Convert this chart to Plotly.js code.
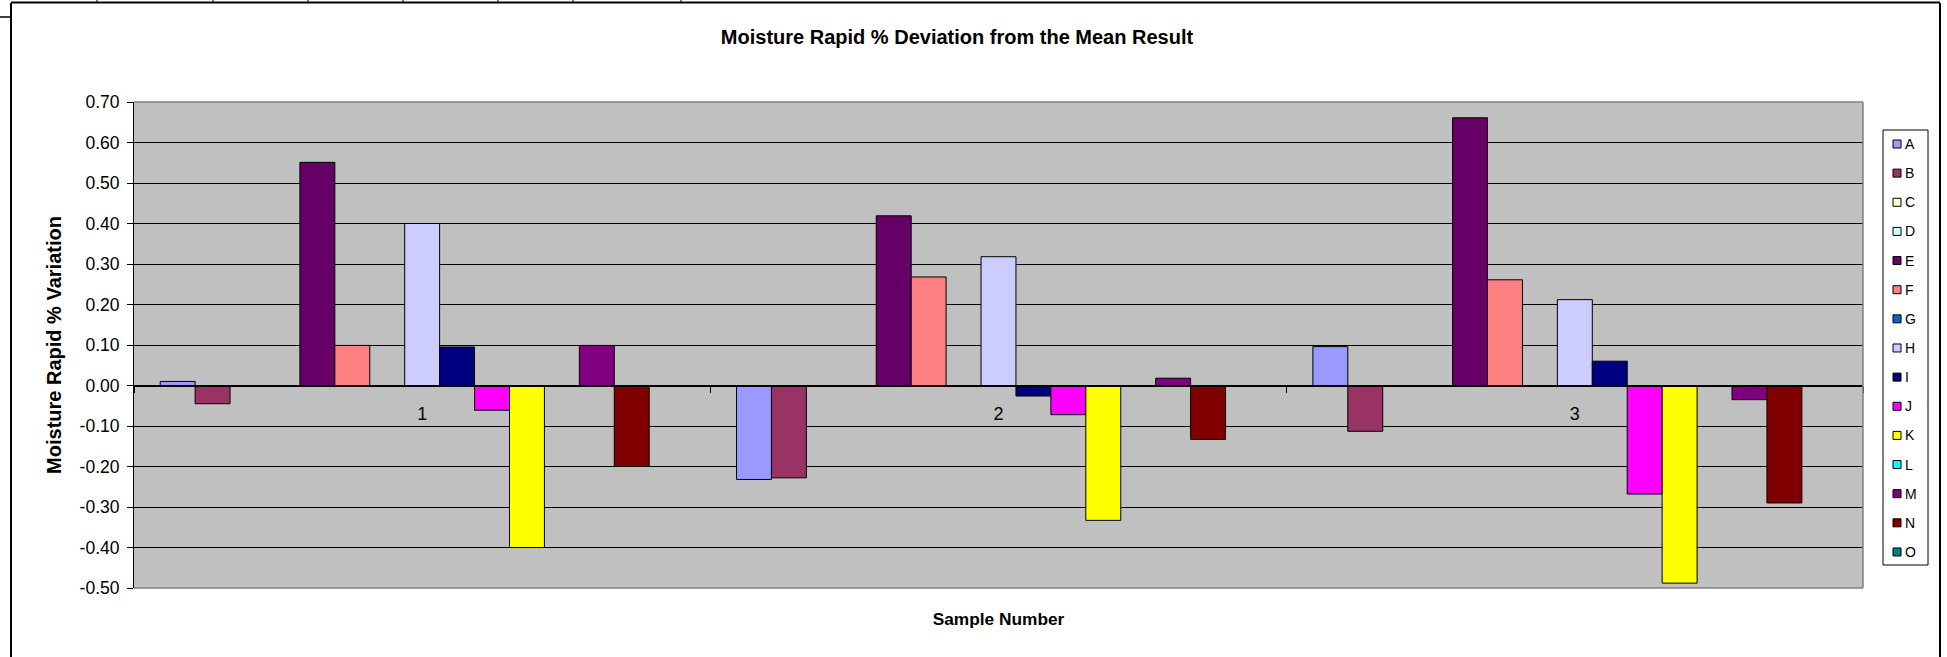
<!DOCTYPE html>
<html>
<head>
<meta charset="utf-8">
<script src="https://cdn.plot.ly/plotly-3.0.1.min.js"></script>
<style>
html,body{margin:0;padding:0;background:#fff;}
#chart{width:1947px;height:657px;}
</style>
</head>
<body>
<div id="chart"></div>
<script>
// ---- data ----
const samples = ['1', '2', '3'];
const seriesNames = ['A','B','C','D','E','F','G','H','I','J','K','L','M','N','O'];
const seriesColors = ['#9999FF','#993366','#FFFFCC','#CCFFFF','#660066','#FF8080','#0066CC','#CCCCFF','#000080','#FF00FF','#FFFF00','#00FFFF','#800080','#800000','#008080'];
const A = [0.010, -0.232, 0.096];
const B = [-0.045, -0.228, -0.113];
const C = [null, null, null];
const D = [null, null, null];
const E = [0.551, 0.419, 0.661];
const F = [0.099, 0.268, 0.261];
const G = [null, null, null];
const H = [0.400, 0.318, 0.212];
const I = [0.095, -0.026, 0.060];
const J = [-0.061, -0.072, -0.268];
const K = [-0.400, -0.333, -0.488];
const L = [null, null, null];
const M = [0.099, 0.018, -0.035];
const N = [-0.200, -0.133, -0.290];
const O = [null, null, null];
const seriesValues = [A,B,C,D,E,F,G,H,I,J,K,L,M,N,O];
const yTickVals = [-0.5,-0.4,-0.3,-0.2,-0.1,0,0.1,0.2,0.3,0.4,0.5,0.6,0.7];
const yTickText = ['-0.50','-0.40','-0.30','-0.20','-0.10','0.00','0.10','0.20','0.30','0.40','0.50','0.60','0.70'];

// ---- layout helpers (pixel -> paper) ----
const W = 1947, Hh = 657;
const mL = 134, mR = 84, mT = 102, mB = 69;
const pw = W - mL - mR, ph = Hh - mT - mB;
const fx = x => (x - mL) / pw;
const fy = y => (Hh - mB - y) / ph;
const FONT = 'Liberation Sans, Arial, sans-serif';

const traces = seriesNames.map((n, i) => ({
  type: 'bar', name: n, x: samples, y: seriesValues[i],
  marker: {color: seriesColors[i], line: {color: '#000', width: 1}},
  showlegend: false, hoverinfo: 'name+y'
}));
// empty carrier so the bottom axis (holding the x title) is drawn
traces.push({type:'scatter', x:[], y:[], xaxis:'x2', yaxis:'y', showlegend:false, hoverinfo:'skip'});

const shapes = [
  // plot area grey border (top, right, bottom)
  {type:'line', xref:'paper', yref:'paper', x0:0, x1:1, y0:1, y1:1, line:{color:'#808080', width:1.5}, layer:'above'},
  {type:'line', xref:'paper', yref:'paper', x0:1, x1:1, y0:0, y1:1, line:{color:'#808080', width:1.5}, layer:'above'},
  {type:'line', xref:'paper', yref:'paper', x0:0, x1:1, y0:0, y1:0, line:{color:'#808080', width:1.5}, layer:'above'},
  // chart frame
  {type:'line', xref:'paper', yref:'paper', x0:fx(11), x1:fx(11), y0:fy(3), y1:fy(700), line:{color:'#000', width:2}},
  {type:'line', xref:'paper', yref:'paper', x0:fx(11), x1:fx(1940), y0:fy(2.5), y1:fy(2.5), line:{color:'#000', width:2}},
  {type:'line', xref:'paper', yref:'paper', x0:fx(1940), x1:fx(1940), y0:fy(3), y1:fy(700), line:{color:'#000', width:2}},
  {type:'line', xref:'paper', yref:'paper', x0:fx(0), x1:fx(10), y0:fy(17), y1:fy(17), line:{color:'#000', width:1.5}},
  // legend box
  {type:'rect', xref:'paper', yref:'paper', x0:fx(1883), x1:fx(1928), y0:fy(130), y1:fy(565), line:{color:'#000', width:1}, fillcolor:'#fff'}
];
// spreadsheet cell borders peeking above the chart
[97, 213, 308, 403, 498, 573, 681].forEach(x => shapes.push({type:'line', xref:'paper', yref:'paper',
  x0:fx(x), x1:fx(x), y0:fy(0), y1:fy(3), line:{color:'#000', width:1}}));

const annotations = [];
seriesNames.forEach((n, i) => {
  const cy = 144 + i * 29.14;
  shapes.push({type:'rect', xref:'paper', yref:'paper', x0:fx(1893), x1:fx(1901), y0:fy(cy+4), y1:fy(cy-4),
    fillcolor: seriesColors[i], line:{color:'#000', width:1}});
  annotations.push({xref:'paper', yref:'paper', x:fx(1903), y:fy(cy), xanchor:'left', yanchor:'middle',
    text:n, showarrow:false, font:{family:FONT, size:14, color:'#000'}});
});

const layout = {
  width: W, height: Hh,
  margin: {l:mL, r:mR, t:mT, b:mB, pad:0},
  paper_bgcolor: '#fff', plot_bgcolor: '#C0C0C0',
  font: {family: FONT, color: '#000'},
  barmode: 'group', bargap: 1.5/16.5, bargroupgap: 0,
  title: {text: '<b>Moisture Rapid % Deviation from the Mean Result</b>', xref:'container', yref:'container',
    x: 957/W, y: 1 - 37/Hh, xanchor:'center', yanchor:'middle', font:{family:FONT, size:20, color:'#000'}},
  xaxis: {type:'category', anchor:'free', position: fy(385.5), showline:true, linecolor:'#000', linewidth:1,
    ticks:'outside', tickson:'boundaries', ticklen:6, tickcolor:'#000', tickwidth:1,
    showgrid:false, zeroline:false, tickfont:{family:FONT, size:18, color:'#000'}, ticklabelstandoff:12, automargin:false},
  xaxis2: {overlaying:'x', anchor:'y', side:'bottom', range:[0,1], showticklabels:false, ticks:'', showgrid:false,
    zeroline:false, showline:false, automargin:false,
    title:{text:'<b>Sample Number</b>', font:{family:FONT, size:17.3, color:'#000'}, standoff:24}},
  yaxis: {range:[-0.5,0.7], tickmode:'array', tickvals:yTickVals, ticktext:yTickText,
    ticks:'outside', ticklen:6, tickcolor:'#000', tickwidth:1, showline:true, linecolor:'#000', linewidth:1,
    gridcolor:'#000', gridwidth:1, zeroline:true, zerolinecolor:'#000', zerolinewidth:1,
    tickfont:{family:FONT, size:17.5, color:'#000'}, ticklabelstandoff:4, automargin:false,
    title:{text:'<b>Moisture Rapid % Variation</b>', font:{family:FONT, size:20, color:'#000'}, standoff:12}},
  shapes: shapes, annotations: annotations
};

Plotly.newPlot('chart', traces, layout, {staticPlot:true, displayModeBar:false});
</script>
</body>
</html>
